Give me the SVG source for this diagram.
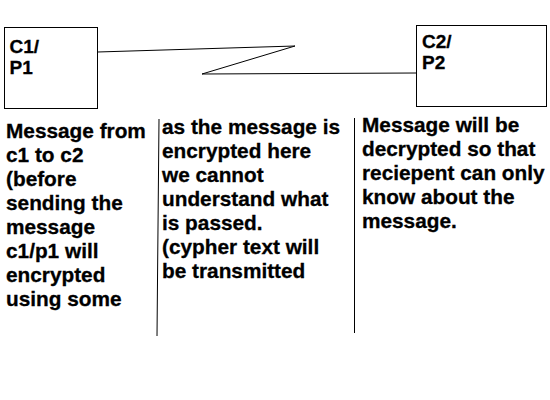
<svg xmlns="http://www.w3.org/2000/svg" width="550" height="400" viewBox="0 0 550 400">
<style>
.box{fill:#fff;stroke:#000;stroke-width:1}
.ln{fill:none;stroke:#000;stroke-width:1}
text{font-family:"Liberation Sans",Arial,sans-serif;font-weight:bold;fill:#000;stroke:#000;stroke-width:0.3}
.lbl{font-size:19px}
.t{font-size:20.8px}
</style>
<rect width="550" height="400" fill="#fff"/>
<g id="connectors">
<polyline class="ln" points="97.5,52 295,46 202,74 416,73"/>
<line class="ln" x1="159" y1="119" x2="157" y2="336"/>
<line class="ln" x1="354.5" y1="118" x2="354.5" y2="333"/>
</g>
<g id="c1p1">
<rect class="box" x="4.5" y="27.5" width="93" height="81"/>
<text class="lbl" x="9.5" y="53">C1/</text>
<text class="lbl" x="9.5" y="73.5">P1</text>
</g>
<g id="c2p2">
<rect class="box" x="416.5" y="25.5" width="130" height="81"/>
<text class="lbl" x="422" y="48">C2/</text>
<text class="lbl" x="422" y="68.5">P2</text>
</g>
<g id="note1">
<text class="t" x="6" y="138">Message from</text>
<text class="t" x="6" y="162">c1 to c2</text>
<text class="t" x="6" y="186">(before</text>
<text class="t" x="6" y="210">sending the</text>
<text class="t" x="6" y="234">message</text>
<text class="t" x="6" y="258">c1/p1 will</text>
<text class="t" x="6" y="282">encrypted</text>
<text class="t" x="6" y="306">using some</text>
</g>
<g id="note2">
<text class="t" x="162" y="134">as the message is</text>
<text class="t" x="162" y="158">encrypted here</text>
<text class="t" x="162" y="182">we cannot</text>
<text class="t" x="162" y="206">understand what</text>
<text class="t" x="162" y="230">is passed.</text>
<text class="t" x="162" y="254">(cypher text will</text>
<text class="t" x="162" y="278">be transmitted</text>
</g>
<g id="note3">
<text class="t" x="362" y="132">Message will be</text>
<text class="t" x="362" y="156">decrypted so that</text>
<text class="t" x="362" y="180">reciepent can only</text>
<text class="t" x="362" y="204">know about the</text>
<text class="t" x="362" y="228">message.</text>
</g>
</svg>
